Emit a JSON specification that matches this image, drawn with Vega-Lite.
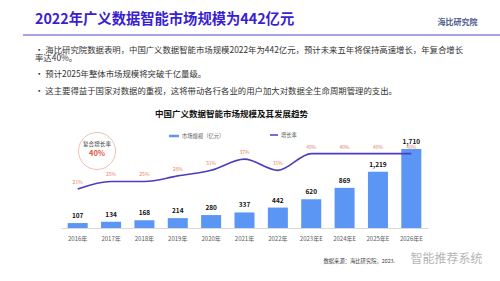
{
  "$schema": "https://vega.github.io/schema/vega-lite/v6.json",
  "width": 367,
  "height": 128,
  "autosize": {"type": "none"},
  "padding": {"left": 61, "top": 100, "right": 72, "bottom": 53},
  "background": "white",
  "config": {"font": "Noto Sans CJK SC", "view": {"stroke": null}},
  "title": {
    "text": "2022年广义数据智能市场规模为442亿元",
    "subtitle": [" •  海比研究院数据表明，中国广义数据智能市场规模2022年为442亿元，预计未来五年将保持高速增长，年复合增长", "　  率达40%。", "\u200b", " •  预计2025年整体市场规模将突破千亿量级。", "\u200b", " •  这主要得益于国家对数据的重视，这将带动各行各业的用户加大对数据全生命周期管理的支出。"],
    "anchor": "start",
    "frame": "group",
    "dx": -26,
    "dy": 81,
    "fontSize": 14.3,
    "fontWeight": "bold",
    "color": "#3a1fd0",
    "subtitleFontSize": 8.4,
    "subtitleColor": "#333333",
    "subtitleLineHeight": 8.2,
    "subtitlePadding": 18
  },
  "datasets": {
    "market": [
      {"year": "2016年", "size": 107, "rate": 0.21},
      {"year": "2017年", "size": 134, "rate": 0.25},
      {"year": "2018年", "size": 168, "rate": 0.25},
      {"year": "2019年", "size": 214, "rate": 0.28},
      {"year": "2020年", "size": 280, "rate": 0.31},
      {"year": "2021年", "size": 337, "rate": 0.37},
      {"year": "2022年", "size": 442, "rate": 0.31},
      {"year": "2023年E", "size": 620, "rate": 0.40},
      {"year": "2024年E", "size": 869, "rate": 0.40},
      {"year": "2025年E", "size": 1219, "rate": 0.40},
      {"year": "2026年E", "size": 1710, "rate": 0.40}
    ],
    "cagr": [{"label": "复合增长率", "value": 0.40}]
  },
  "layer": [
    {
      "data": {"name": "market"},
      "layer": [
        {
          "mark": {"type": "bar"},
          "encoding": {
            "x": {"field": "year", "type": "nominal", "sort": null,
              "scale": {"paddingInner": 0.4, "paddingOuter": 0.2},
              "axis": {"orient": "bottom", "labelAngle": 0, "labelFontSize": 6, "labelColor": "#595959", "ticks": false, "domainColor": "#d9d9d9", "labelPadding": 7,
                "title": "数据来源：海比研究院，2023.", "titleX": 262, "titleY": 32, "titleAlign": "left", "titleBaseline": "middle", "titleFontSize": 5.3, "titleFontWeight": "normal", "titleColor": "#404040"}},
            "y": {"field": "size", "type": "quantitative", "scale": {"domain": [0, 2770], "nice": false},
              "axis": {"orient": "left", "labels": false, "ticks": false, "domain": false, "grid": false,
                "title": "海比研究院", "titleAngle": 0, "titleX": 376, "titleY": -78, "titleAlign": "left", "titleBaseline": "middle", "titleFontSize": 8, "titleFontWeight": "bold", "titleColor": "#4d5b8c"}},
            "fill": {"datum": "市场规模（亿元）", "type": "nominal", "scale": {"range": ["#5b96f4"]},
              "legend": {"orient": "none", "legendX": 107, "legendY": 30, "title": null, "padding": 0, "symbolType": "M-1,-0.25H1V0.25H-1Z", "symbolSize": 100, "labelFontSize": 5.3, "labelColor": "#595959", "labelOffset": 2}}
          }
        },
        {
          "mark": {"type": "text", "baseline": "middle", "dy": -7, "fontSize": 6.5, "fontWeight": "bold", "color": "#111111"},
          "encoding": {
            "x": {"field": "year", "type": "nominal", "sort": null},
            "y": {"field": "size", "type": "quantitative"},
            "text": {"field": "size", "type": "quantitative", "format": ","}
          }
        }
      ]
    },
    {
      "layer": [
        {
          "data": {"name": "market"},
          "mark": {"type": "line", "interpolate": "monotone", "strokeWidth": 1.6},
          "encoding": {
            "x": {"field": "year", "type": "nominal", "sort": null,
              "axis": {"orient": "top", "labels": false, "ticks": false, "domain": false,
                "title": "中国广义数据智能市场规模及其发展趋势", "titleX": 170, "titleY": 13, "titleAlign": "center", "titleBaseline": "middle", "titleFontSize": 8.5, "titleFontWeight": "bold", "titleColor": "#111111"}},
            "y": {"field": "rate", "type": "quantitative", "scale": {"domain": [0, 0.688], "nice": false},
              "axis": {"orient": "right", "labels": false, "ticks": false, "domain": false, "grid": false,
                "title": "智能推荐系统", "titleAngle": 0, "titleX": 18, "titleY": 158, "titleAlign": "center", "titleBaseline": "middle", "titleFontSize": 12, "titleFontWeight": "normal", "titleColor": "#b5b5b5"}},
            "stroke": {"datum": "增长率", "type": "nominal", "scale": {"range": ["#4b3cc2"]},
              "legend": {"orient": "none", "legendX": 208, "legendY": 30, "title": null, "padding": 0, "symbolType": "stroke", "symbolSize": 64, "symbolStrokeWidth": 1.5, "labelFontSize": 5.3, "labelColor": "#595959", "labelOffset": 2}}
          }
        },
        {
          "data": {"name": "market"},
          "mark": {"type": "text", "baseline": "middle", "dy": -7, "fontSize": 5, "color": "#e8826a"},
          "encoding": {
            "x": {"field": "year", "type": "nominal", "sort": null},
            "y": {"field": "rate", "type": "quantitative"},
            "text": {"field": "rate", "type": "quantitative", "format": ".0%"}
          }
        },
        {
          "data": {"name": "cagr"},
          "mark": {"type": "point", "shape": "circle", "size": 1369, "filled": false, "stroke": "#e8a593", "strokeWidth": 1},
          "encoding": {
            "x": {"datum": "2016年", "type": "nominal", "bandPosition": 1.465},
            "y": {"datum": 0.414, "type": "quantitative"}
          }
        },
        {
          "data": {"name": "cagr"},
          "mark": {"type": "text", "baseline": "middle", "dy": -7, "fontSize": 5.6, "color": "#404040"},
          "encoding": {
            "x": {"datum": "2016年", "type": "nominal", "bandPosition": 1.465},
            "y": {"datum": 0.414, "type": "quantitative"},
            "text": {"field": "label", "type": "nominal"}
          }
        },
        {
          "data": {"name": "cagr"},
          "mark": {"type": "text", "baseline": "middle", "dy": 3, "fontSize": 7.5, "fontWeight": "bold", "color": "#e0593f"},
          "encoding": {
            "x": {"datum": "2016年", "type": "nominal", "bandPosition": 1.465},
            "y": {"datum": 0.414, "type": "quantitative"},
            "text": {"field": "value", "type": "quantitative", "format": ".0%"}
          }
        },
        {
          "data": {"name": "cagr"},
          "mark": {"type": "rule", "color": "#8b85dd", "strokeWidth": 1.5},
          "encoding": {
            "x": {"datum": "2016年", "type": "nominal", "bandPosition": -2.235},
            "x2": {"datum": "2026年E", "bandPosition": 4.935},
            "y": {"datum": 1.037, "type": "quantitative"}
          }
        }
      ]
    }
  ],
  "resolve": {"scale": {"y": "independent"}, "axis": {"x": "independent", "y": "independent"}}
}
